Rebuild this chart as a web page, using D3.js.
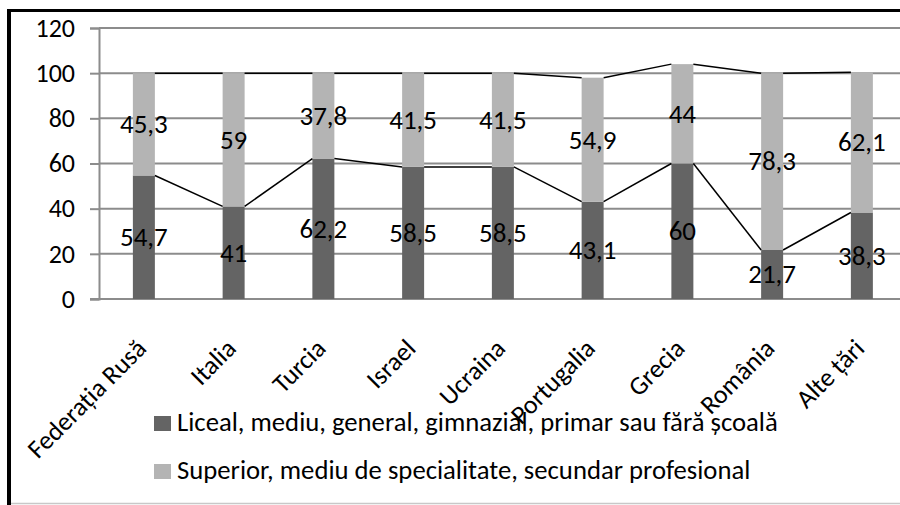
<!DOCTYPE html>
<html>
<head>
<meta charset="utf-8">
<script src="https://cdn.jsdelivr.net/npm/d3@7"></script>
<style>
  html, body { margin: 0; padding: 0; background: #fff; }
</style>
</head>
<body>
<svg id="chart" width="900" height="505" font-family="Carlito, Calibri, Lato, sans-serif"></svg>
<script>
const categories = ["Federația Rusă", "Italia", "Turcia", "Israel", "Ucraina", "Portugalia", "Grecia", "România", "Alte țări"];
const seriesNames = ["Liceal, mediu, general, gimnazial, primar sau fără școală", "Superior, mediu de specialitate, secundar profesional"];
const lowerValues = [54.7, 41, 62.2, 58.5, 58.5, 43.1, 60, 21.7, 38.3];
const upperValues = [45.3, 59, 37.8, 41.5, 41.5, 54.9, 44, 78.3, 62.1];
const lowerLabels = ["54,7", "41", "62,2", "58,5", "58,5", "43,1", "60", "21,7", "38,3"];
const upperLabels = ["45,3", "59", "37,8", "41,5", "41,5", "54,9", "44", "78,3", "62,1"];
const yTicks = [0, 20, 40, 60, 80, 100, 120];
const colors = ["#646464", "#b4b4b4"];

const svg = d3.select("#chart");
const W = 900, H = 505;

// frame
svg.append("line").attr("x1", 7).attr("x2", W).attr("y1", 10.5).attr("y2", 10.5)
  .attr("stroke", "#000").attr("stroke-width", 3);
svg.append("line").attr("x1", 9).attr("x2", 9).attr("y1", 9).attr("y2", H)
  .attr("stroke", "#000").attr("stroke-width", 4);
svg.append("line").attr("x1", 11).attr("x2", W).attr("y1", 503.5).attr("y2", 503.5)
  .attr("stroke", "#c8c8c8").attr("stroke-width", 1.5);

const x0 = 99, step = 89.75;
const x = d3.scaleBand().domain(categories)
  .range([x0, x0 + step * categories.length])
  .paddingInner(0.755).paddingOuter(0.3775);
const y = d3.scaleLinear().domain([0, 120]).range([299, 28]);

// gridlines
svg.append("g").selectAll("line").data(yTicks.filter(d => d > 0)).join("line")
  .attr("x1", x0).attr("x2", W).attr("y1", d => y(d)).attr("y2", d => y(d))
  .attr("stroke", "#8c8c8c").attr("stroke-width", 2);

// y axis
const yAxis = d3.axisLeft(y).tickValues(yTicks).tickSize(9).tickPadding(15).tickFormat(d3.format("d"));
const gy = svg.append("g").attr("transform", `translate(${x0},0)`).call(yAxis);
gy.attr("font-family", null).attr("font-size", null);
gy.select(".domain").attr("stroke", "#8c8c8c").attr("stroke-width", 2);
gy.selectAll(".tick line").attr("stroke", "#8c8c8c").attr("stroke-width", 2);
gy.selectAll(".tick text").attr("font-size", 26).attr("fill", "#000");

// x axis baseline
svg.append("line").attr("x1", x0 - 9).attr("x2", W).attr("y1", y(0)).attr("y2", y(0))
  .attr("stroke", "#8c8c8c").attr("stroke-width", 2);

// stacked data
const rows = categories.map((c, i) => ({ cat: c, lo: lowerValues[i], up: upperValues[i], loL: lowerLabels[i], upL: upperLabels[i] }));
const bw = x.bandwidth();

// bars
const gb = svg.append("g");
gb.selectAll("rect.lo").data(rows).join("rect").attr("class", "lo")
  .attr("x", d => x(d.cat)).attr("width", bw)
  .attr("y", d => y(d.lo)).attr("height", d => y(0) - y(d.lo))
  .attr("fill", colors[0]);
gb.selectAll("rect.up").data(rows).join("rect").attr("class", "up")
  .attr("x", d => x(d.cat)).attr("width", bw)
  .attr("y", d => y(d.lo + d.up)).attr("height", d => y(d.lo) - y(d.lo + d.up))
  .attr("fill", colors[1]);

// series lines
const segs = [];
for (let i = 0; i < rows.length - 1; i++) {
  const a = rows[i], b = rows[i + 1];
  segs.push({ x1: x(a.cat) + bw, x2: x(b.cat), v1: a.lo, v2: b.lo });
  segs.push({ x1: x(a.cat) + bw, x2: x(b.cat), v1: a.lo + a.up, v2: b.lo + b.up });
}
svg.append("g").selectAll("line").data(segs).join("line")
  .attr("x1", d => d.x1).attr("x2", d => d.x2)
  .attr("y1", d => y(d.v1)).attr("y2", d => y(d.v2))
  .attr("stroke", "#000").attr("stroke-width", 1.5);

// data labels
const gl = svg.append("g").attr("font-size", 27).attr("text-anchor", "middle");
gl.selectAll("text.lo").data(rows).join("text").attr("class", "lo")
  .attr("x", d => x(d.cat) + bw / 2).attr("y", d => y(d.lo / 2)).attr("dy", "0.33em")
  .text(d => d.loL);
gl.selectAll("text.up").data(rows).join("text").attr("class", "up")
  .attr("x", d => x(d.cat) + bw / 2).attr("y", d => y(d.lo + d.up / 2)).attr("dy", "0.33em")
  .text(d => d.upL);

// category labels
svg.append("g").selectAll("text").data(categories).join("text")
  .attr("transform", d => `translate(${x(d) + bw / 2 + 4},${y(0) + 51}) rotate(-45)`)
  .attr("text-anchor", "end").attr("font-size", 26)
  .text(d => d);

// legend
const lg = svg.append("g");
seriesNames.forEach((n, i) => {
  const yy = 416 + i * 48;
  lg.append("rect").attr("x", 154).attr("y", yy).attr("width", 17).attr("height", 15).attr("fill", colors[i]);
  lg.append("text").attr("x", 177).attr("y", yy + 15).attr("font-size", 26.7).text(n);
});
</script>
</body>
</html>
